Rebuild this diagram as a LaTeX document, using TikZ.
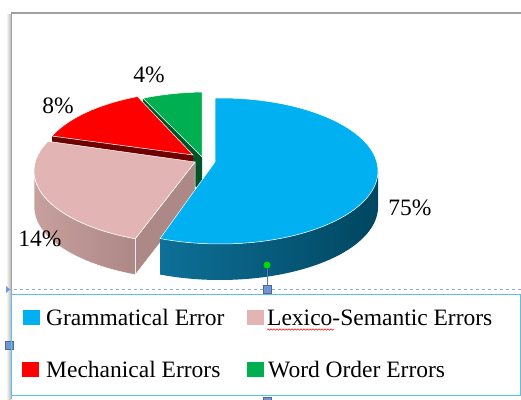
\documentclass[tikz,border=0pt]{standalone}
\usepackage{fontspec}
\setmainfont{Liberation Serif}
\usetikzlibrary{decorations.pathmorphing}

\definecolor{gramblue}{RGB}{0,176,240}
\definecolor{gramside}{RGB}{0,70,96}
\definecolor{gramsidel}{RGB}{14,112,152}
\definecolor{lexpink}{RGB}{226,181,180}
\definecolor{lexside}{RGB}{172,136,134}
\definecolor{lexsidel}{RGB}{200,160,158}
\definecolor{mechred}{RGB}{255,0,0}
\definecolor{mechcut}{RGB}{110,0,0}
\definecolor{wordgreen}{RGB}{0,176,80}
\definecolor{wordcut}{RGB}{0,84,40}
\definecolor{legline}{RGB}{88,192,236}
\definecolor{handle}{RGB}{112,150,212}

\begin{document}
\begin{tikzpicture}[
  x=1pt, y=1pt,
  pct/.style={font=\fontsize{23.5}{26}\selectfont, inner sep=0pt},
  legtext/.style={font=\fontsize{23.5}{26}\selectfont, anchor=base west, inner sep=0pt},
  legkey/.style={minimum width=17pt, minimum height=14.5pt, inner sep=0pt},
  topface/.style={draw=white, line width=0.5pt},
  grip/.style={fill=handle, draw=handle!70!black, line width=0.4pt, minimum size=8pt, inner sep=0pt}
]
\useasboundingbox (0,0) rectangle (521,399);

% chart frame
\shade[left color=white, right color=gray!55] (6,0) rectangle (11,384);
\draw[gray!75, line width=1.3pt] (11.5,0) -- (11.5,386) -- (521,386);

% word order (back)
\coordinate (wc) at (207,234);
\coordinate (wa) at (202,242);
\coordinate (wl) at ([shift={(wc)}]113.9:158pt and 73pt);
\fill[wordcut] (wa) -- (wl) -- ([yshift=-36pt]wl) -- ([yshift=-36pt]wa) -- cycle;
\fill[wordgreen, topface] (wa) -- ([shift={(wc)}]91.8:158pt and 73pt)
  arc[start angle=91.8, end angle=113.9, x radius=158pt, y radius=73pt] -- cycle;

% mechanical
\coordinate (mc) at (198,235);
\coordinate (ma) at (193,244);
\coordinate (ml) at ([shift={(mc)}]157.5:158pt and 73pt);
\fill[mechcut] (ma) -- (ml) -- ([yshift=-36pt]ml) -- ([yshift=-36pt]ma) -- cycle;
\fill[mechred, topface] (ma) -- ([shift={(mc)}]112.5:158pt and 73pt)
  arc[start angle=112.5, end angle=157.5, x radius=158pt, y radius=73pt] -- cycle;

% lexico-semantic
\coordinate (lc) at (196,228);
\coordinate (la) at (195,237);
\coordinate (lb) at ([shift={(lc)}]248:162pt and 73pt);
\fill[lexside, topface] (la) -- (lb) -- ([yshift=-36pt]lb) -- ([yshift=-36pt]la) -- cycle;
\shade[left color=lexsidel, right color=lexside, draw=white, line width=0.5pt]
  ([shift={(lc)}]180:162pt and 73pt)
  arc[start angle=180, end angle=248, x radius=162pt, y radius=73pt] -- ++(0,-36)
  arc[start angle=248, end angle=180, x radius=162pt, y radius=73pt] -- cycle;
\fill[lexpink, topface] (la) -- ([shift={(lc)}]156:162pt and 73pt)
  arc[start angle=156, end angle=248, x radius=162pt, y radius=73pt] -- cycle;

% grammatical (front)
\coordinate (gc) at (220,228);
\coordinate (ga) at (215,237);
\shade[left color=gramsidel, right color=gramside]
  ([shift={(gc)}]0:158pt and 73pt)
  arc[start angle=0, end angle=-112.3, x radius=158pt, y radius=73pt] -- ++(0,-36)
  arc[start angle=-112.3, end angle=0, x radius=158pt, y radius=73pt] -- cycle;
\fill[gramblue, topface] (ga) -- ([shift={(gc)}]91.8:158pt and 73pt)
  arc[start angle=91.8, end angle=-112.3, x radius=158pt, y radius=73pt] -- cycle;

% percentages
\node[pct] (p4) at (149,324) {4\%};
\node[pct] (p8) at (58,293) {8\%};
\node[pct] (p75) at (410,191) {75\%};
\node[pct] (p14) at (40,160) {14\%};

% selection handles
\draw[handle!80, dashed, line width=0.8pt] (8,109.5) -- (521,109.5);
\node[grip] (gtop) at (267,109.5) {};
\node[grip] (gbot) at (267,-2) {};
\node[grip] (gleft) at (9,54) {};
\fill[handle] (6,113) -- (10,109.5) -- (6,106) -- cycle;
\node[circle, fill=green!85!black, inner sep=0pt, minimum size=7pt] (rot) at (267,134) {};
\draw[handle!80!black, line width=1pt] (rot) -- (gtop);

% legend
\draw[legline, line width=1pt] (11.5,4) rectangle (520,105);
\node[legkey, fill=gramblue] (kgram) at (31,81.5) {};
\node[legtext] (tgram) at (46,74) {Grammatical Error};
\node[legkey, fill=lexpink] (klex) at (255,81.5) {};
\node[legtext] (tlex) at (267,74) {Lexico-Semantic Errors};
\node[legkey, fill=mechred] (kmech) at (30,29.5) {};
\node[legtext] (tmech) at (46,22) {Mechanical Errors};
\node[legkey, fill=wordgreen] (kword) at (255,29.5) {};
\node[legtext] (tword) at (268,22) {Word Order Errors};
\draw[red, line width=0.5pt, decorate, decoration={snake, amplitude=0.7pt, segment length=3pt}]
  ([yshift=-4.5pt]tlex.base west) -- ++(67,0);
\end{tikzpicture}
\end{document}
